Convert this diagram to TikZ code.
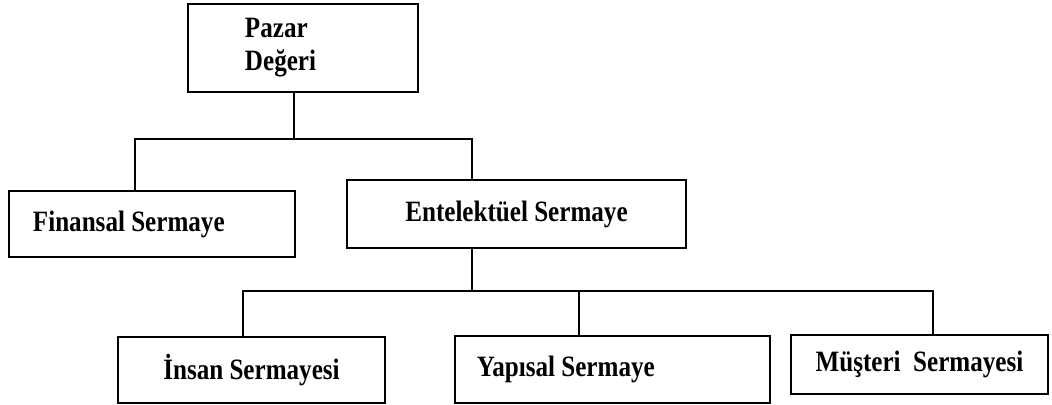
\documentclass[tikz,border=0pt]{standalone}
\usepackage{fontspec}
\setmainfont{Liberation Serif}[FakeStretch=0.85]
\usetikzlibrary{calc}

\begin{document}
\begin{tikzpicture}[x=0.025cm,y=-0.025cm,
    box/.style={draw,line width=1.6pt,font=\fontsize{21}{23.5}\selectfont\bfseries},
    link/.style={line width=1.4pt}]
    \useasboundingbox (0,0) rectangle (1052,405);
    % boxes
    \node[box,minimum width=5.75cm,minimum height=2.2cm,inner xsep=1.425cm,text width=2.9cm,align=flush left] (deger) at (303,48) {Pazar\\Değeri};
    \node[box,minimum width=7.15cm,minimum height=1.65cm,inner xsep=0.6cm,text width=5.95cm,align=flush left] (finansal) at (152,224) {Finansal Sermaye};
    \node[box,minimum width=8.475cm,minimum height=1.7cm] (entel) at (516.5,214) {Entelektüel Sermaye};
    \node[box,minimum width=6.675cm,minimum height=1.65cm] (insan) at (251.5,370) {İnsan Sermayesi};
    \node[box,minimum width=7.875cm,minimum height=1.675cm,inner xsep=0.55cm,text width=6.775cm,align=flush left] (yapisal) at (612.5,369.5) {Yapısal Sermaye};
    \node[box,minimum width=6.425cm,minimum height=1.475cm] (musteri) at (919.5,364.5) {Müşteri~~Sermayesi};
    % junctions
    \coordinate (up) at (294,139);
    \coordinate (upl) at (135,139);
    \coordinate (upr) at (472,139);
    \coordinate (lowl) at (243,291);
    \coordinate (lowm) at (579,291);
    \coordinate (lowr) at (933,291);
    % connectors
    \draw[link] (up |- deger.south) -- (up);
    \draw[link] (upl |- finansal.north) -- (upl) -- (upr) -- (upr |- entel.north);
    \draw[link] (upr |- entel.south) -- (upr |- lowl);
    \draw[link] (lowl |- insan.north) -- (lowl) -- (lowr) -- (lowr |- musteri.north);
    \draw[link] (lowm) -- (lowm |- yapisal.north);
\end{tikzpicture}
\end{document}
